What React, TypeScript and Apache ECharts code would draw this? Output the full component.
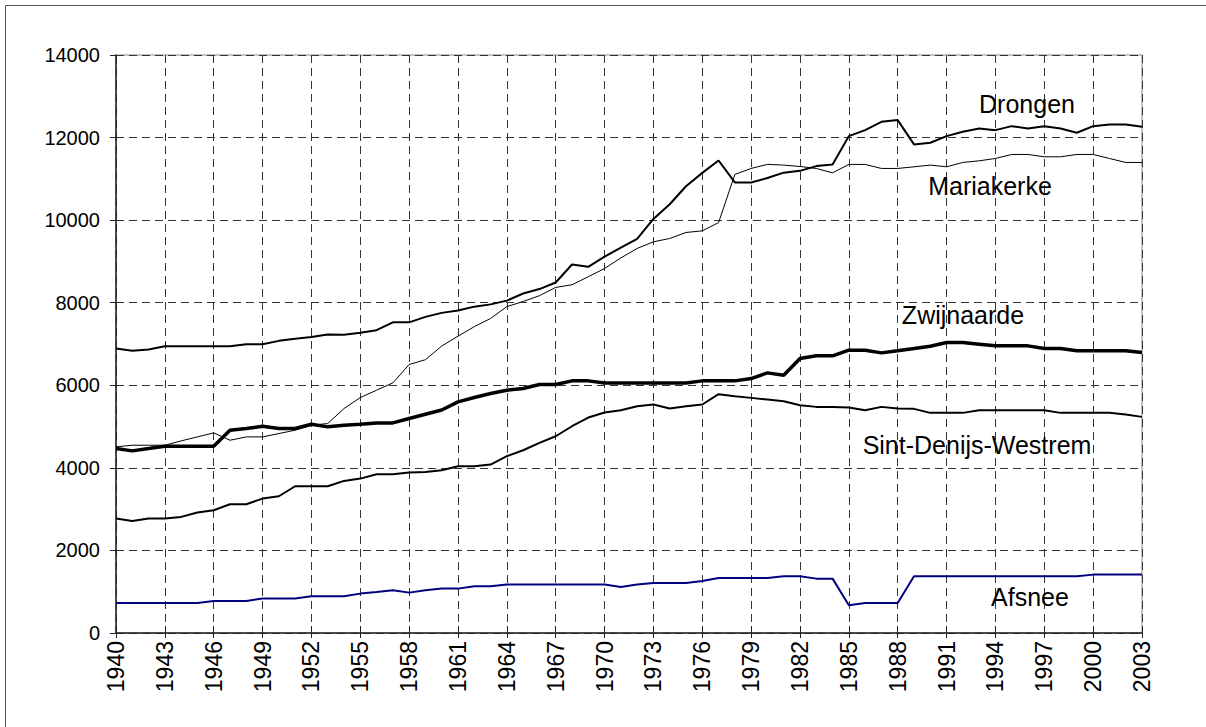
import React, { useEffect, useRef } from "react";
import * as echarts from "echarts";

const years: string[] = [];
for (let y = 1940; y <= 2003; y++) years.push(String(y));

const drongen = [
  6890, 6834, 6866, 6947, 6947, 6947, 6947, 6947, 6996, 6996,
  7076, 7125, 7172, 7230, 7225, 7275, 7334, 7525, 7525, 7657,
  7754, 7810, 7905, 7960, 8050, 8224, 8330, 8490, 8926, 8870,
  9115, 9335, 9545, 10030, 10385, 10820, 11145, 11445, 10913, 10913,
  11020, 11150, 11194, 11309, 11349, 12035, 12180, 12382, 12423, 11834,
  11874, 12035, 12140, 12221, 12180, 12277, 12221, 12277, 12221, 12116,
  12277, 12318, 12318, 12261,
];

const mariakerke = [
  4508, 4548, 4548, 4548, 4653, 4750, 4847, 4669, 4750, 4750,
  4831, 4912, 5033, 5073, 5437, 5703, 5881, 6058, 6503, 6620,
  6950, 7190, 7420, 7618, 7905, 8030, 8170, 8370, 8435, 8630,
  8829, 9085, 9314, 9475, 9556, 9701, 9741, 9940, 11107, 11252,
  11350, 11333, 11300, 11252, 11146, 11349, 11349, 11252, 11252, 11292,
  11333, 11292, 11397, 11437, 11494, 11591, 11591, 11534, 11534, 11591,
  11591, 11494, 11397, 11397,
];

const zwijnaarde = [
  4467, 4411, 4467, 4524, 4524, 4524, 4524, 4912, 4952, 5008,
  4952, 4952, 5057, 4993, 5033, 5057, 5089, 5089, 5194, 5299,
  5400, 5598, 5703, 5800, 5881, 5921, 6018, 6018, 6107, 6107,
  6058, 6058, 6058, 6058, 6058, 6058, 6107, 6107, 6107, 6163,
  6301, 6244, 6648, 6713, 6713, 6850, 6850, 6785, 6834, 6890,
  6947, 7036, 7036, 6996, 6955, 6955, 6955, 6890, 6890, 6834,
  6834, 6834, 6834, 6794,
];

const sintDenijs = [
  2771, 2715, 2771, 2771, 2812, 2917, 2973, 3119, 3119, 3256,
  3312, 3555, 3555, 3555, 3684, 3740, 3845, 3845, 3886, 3902,
  3942, 4039, 4039, 4080, 4282, 4427, 4605, 4766, 5008, 5219,
  5340, 5396, 5493, 5534, 5437, 5493, 5534, 5784, 5735, 5695,
  5655, 5615, 5517, 5477, 5477, 5461, 5396, 5477, 5437, 5429,
  5332, 5332, 5332, 5396, 5396, 5396, 5396, 5396, 5332, 5332,
  5332, 5332, 5291, 5235,
];

const afsnee = [
  728, 728, 728, 728, 728, 728, 776, 776, 776, 833,
  833, 833, 889, 889, 889, 954, 994, 1035, 978, 1035,
  1075, 1075, 1131, 1131, 1172, 1172, 1172, 1172, 1172, 1172,
  1172, 1115, 1172, 1212, 1212, 1212, 1261, 1334, 1334, 1334,
  1334, 1374, 1374, 1317, 1317, 671, 728, 728, 728, 1374,
  1374, 1374, 1374, 1374, 1374, 1374, 1374, 1374, 1374, 1374,
  1414, 1414, 1414, 1414,
];

const seriesNames = ["Drongen", "Mariakerke", "Zwijnaarde", "Sint-Denijs-Westrem", "Afsnee"];

const FONT = "'Liberation Sans', Arial, sans-serif";

export default function App() {
  const ref = useRef<HTMLDivElement>(null);
  useEffect(() => {
    if (!ref.current) return;
    const chart = echarts.init(ref.current, null, { renderer: "svg" });
    const gridDash = { type: [8, 5] as any, color: "#333", width: 1 };
    const label = (text: string, x: number, y: number) => ({
      type: "text",
      x,
      y,
      style: {
        text,
        fill: "#000",
        font: `25px ${FONT}`,
        textAlign: "center",
        textVerticalAlign: "middle",
      },
      z: 100,
    });
    chart.setOption({
      animation: false,
      backgroundColor: "#fff",
      grid: {
        left: 116,
        right: 64,
        top: 55,
        bottom: 94,
        show: true,
        borderColor: "#888",
        borderWidth: 1,
        backgroundColor: "transparent",
      },
      xAxis: [
        {
          type: "category",
          data: years,
          boundaryGap: false,
          axisLine: { lineStyle: { color: "#222", width: 1.5 } },
          axisTick: { interval: 2, inside: true, length: 7, lineStyle: { color: "#222", width: 1 } },
          axisLabel: {
            interval: 2,
            rotate: 90,
            fontSize: 23,
            fontFamily: FONT,
            color: "#000",
            margin: 8,
          },
          splitLine: { show: true, interval: 2, lineStyle: gridDash },
        },
        {
          type: "category",
          data: years,
          boundaryGap: false,
          position: "bottom",
          axisLine: { show: false },
          axisTick: { interval: 2, inside: false, length: 5, lineStyle: { color: "#222", width: 1 } },
          axisLabel: { show: false },
          splitLine: { show: false },
        },
      ],
      yAxis: {
        type: "value",
        min: 0,
        max: 14000,
        interval: 2000,
        axisLine: { show: true, lineStyle: { color: "#222", width: 1.5 } },
        axisTick: { show: true, inside: false, length: 6, lineStyle: { color: "#222", width: 1 } },
        axisLabel: {
          fontSize: 20,
          fontFamily: FONT,
          color: "#000",
          margin: 16,
          formatter: (v: number) => String(v),
        },
        splitLine: { show: true, lineStyle: gridDash },
      },
      series: [
        { name: seriesNames[0], type: "line", data: drongen, symbol: "none", lineStyle: { color: "#000", width: 2 }, z: 3 },
        { name: seriesNames[1], type: "line", data: mariakerke, symbol: "none", lineStyle: { color: "#000", width: 1 }, z: 3 },
        { name: seriesNames[2], type: "line", data: zwijnaarde, symbol: "none", lineStyle: { color: "#000", width: 3.5 }, z: 3 },
        { name: seriesNames[3], type: "line", data: sintDenijs, symbol: "none", lineStyle: { color: "#000", width: 2 }, z: 3 },
        { name: seriesNames[4], type: "line", data: afsnee, symbol: "none", lineStyle: { color: "#000080", width: 2 }, z: 3 },
      ],
      graphic: [
        {
          type: "rect",
          shape: { x: 5.5, y: 5.5, width: 1400, height: 1000 },
          style: { fill: "none", stroke: "#555", lineWidth: 1 },
          silent: true,
          z: 0,
        },
        label(seriesNames[0], 1027, 104),
        label(seriesNames[1], 990, 186),
        label(seriesNames[2], 963, 315),
        label(seriesNames[3], 977, 445),
        label(seriesNames[4], 1030, 597),
      ],
    });
    return () => chart.dispose();
  }, []);
  return (
    <div
      ref={ref}
      style={{ position: "absolute", left: 0, top: 0, width: 1206, height: 727 }}
    />
  );
}
